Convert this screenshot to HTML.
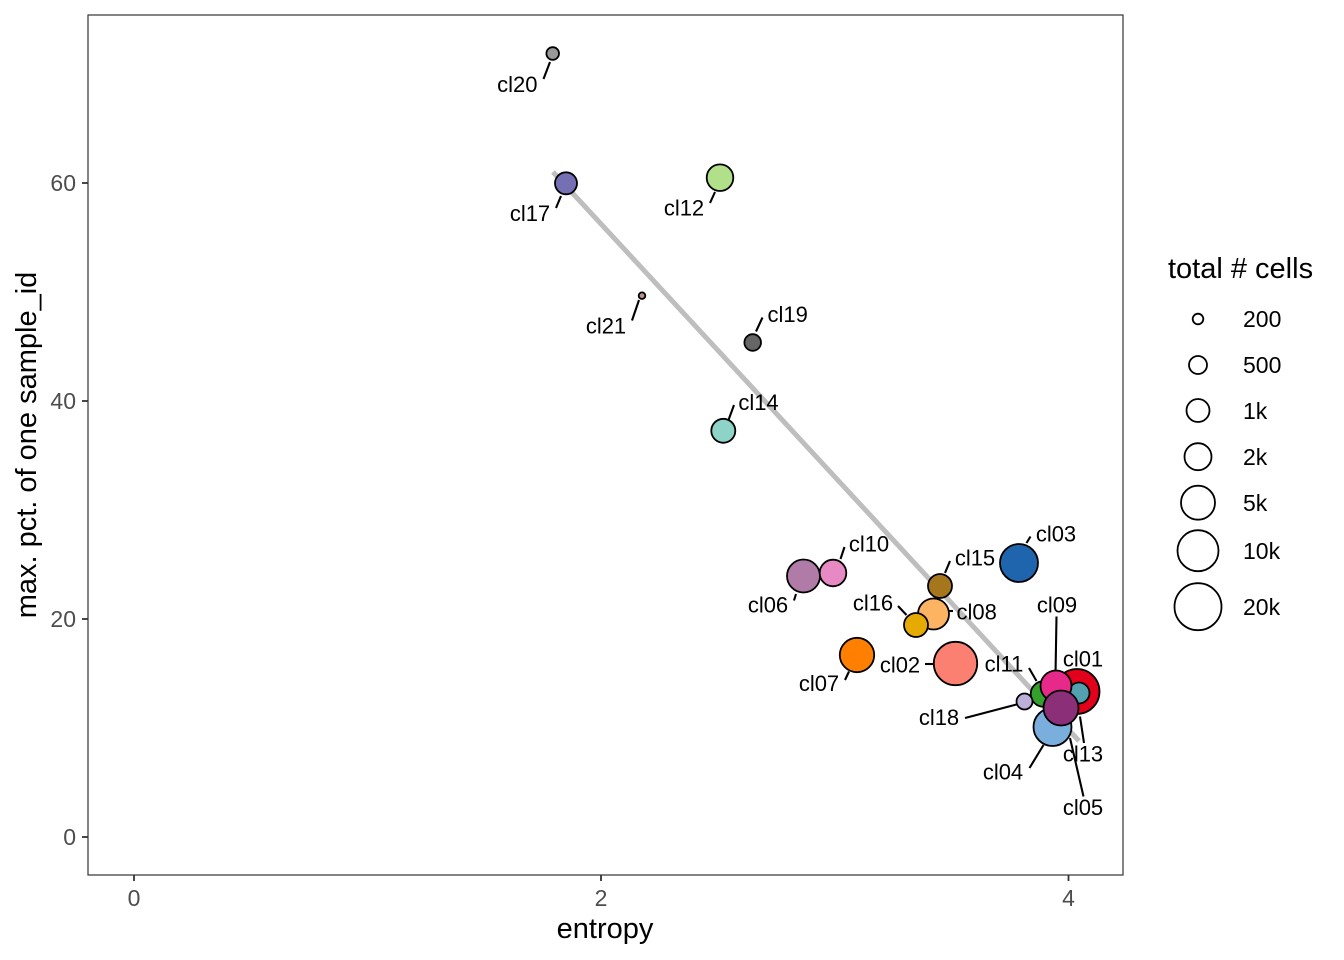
<!DOCTYPE html>
<html><head><meta charset="utf-8"><style>
html,body{margin:0;padding:0;background:#fff;}
svg{display:block;}
text{font-family:"Liberation Sans",Arial,sans-serif;}
</style></head><body>
<svg width="1344" height="960" viewBox="0 0 1344 960" xmlns="http://www.w3.org/2000/svg">
<rect x="0" y="0" width="1344" height="960" fill="#fff"/>
<!-- panel -->
<rect x="88" y="15" width="1035" height="860" fill="#fff" stroke="#333" stroke-width="1.2"/>
<!-- regression line -->
<line x1="553" y1="172" x2="1079" y2="741" stroke="#bebebe" stroke-width="5"/>
<!-- segments -->
<g stroke="#000" stroke-width="2.1" fill="none">
<line x1="543.5" y1="79" x2="550" y2="62"/>
<line x1="556" y1="208" x2="561" y2="196"/>
<line x1="710" y1="203" x2="715" y2="192"/>
<line x1="632" y1="320.5" x2="639" y2="300"/>
<line x1="756" y1="331.5" x2="762.5" y2="317.5"/>
<line x1="728.5" y1="420" x2="734" y2="405"/>
<line x1="840.5" y1="559" x2="844.5" y2="547"/>
<line x1="794" y1="600.5" x2="796" y2="594"/>
<line x1="945" y1="573" x2="950" y2="561"/>
<line x1="898" y1="606" x2="906.5" y2="615"/>
<line x1="948.5" y1="611" x2="953" y2="611"/>
<line x1="845" y1="680" x2="849" y2="671.5"/>
<line x1="925" y1="664" x2="933.5" y2="664"/>
<line x1="1026.5" y1="543" x2="1030.5" y2="536.5"/>
<line x1="1056.5" y1="616.5" x2="1055.5" y2="675"/>
<line x1="1029" y1="668" x2="1036.5" y2="681"/>
<line x1="965" y1="718" x2="1016.5" y2="704.5"/>
<line x1="1029.5" y1="768" x2="1043.5" y2="745"/>
<line x1="1080" y1="716.5" x2="1084" y2="743"/>
<line x1="1070" y1="738" x2="1083.5" y2="796.5"/>
</g>
<!-- points -->
<g stroke="#000" stroke-width="1.8">
<circle cx="552.7" cy="53.5" r="6.3" fill="#999999"/>
<circle cx="566" cy="183.3" r="11" fill="#7570b3"/>
<circle cx="720" cy="177.7" r="13.3" fill="#b2df8a"/>
<circle cx="642" cy="295.7" r="3.3" fill="#bc8f8f"/>
<circle cx="752.7" cy="342.5" r="8.3" fill="#666666"/>
<circle cx="723.3" cy="430.8" r="12" fill="#8dd3c7"/>
<circle cx="1019" cy="563" r="19" fill="#1f65ad"/>
<circle cx="803.5" cy="576" r="16.5" fill="#b07ba7"/>
<circle cx="833" cy="573" r="13.3" fill="#e78ac3"/>
<circle cx="933.5" cy="614" r="15.5" fill="#fdb462"/>
<circle cx="940" cy="586" r="12" fill="#a6761d"/>
<circle cx="916" cy="625" r="12" fill="#e6ab02"/>
<circle cx="857" cy="655" r="17.2" fill="#ff7f00"/>
<circle cx="955.5" cy="663.5" r="21.7" fill="#fb8072"/>
<circle cx="1077" cy="691.5" r="22.5" fill="#e3001b"/>
<circle cx="1052.5" cy="727" r="19" fill="#7aaedc"/>
<circle cx="1043.5" cy="694" r="12.8" fill="#33a02c"/>
<circle cx="1079" cy="693" r="10.5" fill="#52a0b0"/>
<circle cx="1056" cy="686" r="15.5" fill="#e7298a"/>
<circle cx="1024.5" cy="701.5" r="8" fill="#bdb0d8"/>
<circle cx="1061" cy="708" r="17.5" fill="#8b2f78"/>
</g>
<!-- point labels -->
<g font-size="22" fill="#000" text-anchor="middle">
<text x="517.3" y="92">cl20</text>
<text x="530" y="221">cl17</text>
<text x="684" y="215.3">cl12</text>
<text x="606" y="333.7">cl21</text>
<text x="787.7" y="322">cl19</text>
<text x="758.5" y="410">cl14</text>
<text x="1056" y="541.7">cl03</text>
<text x="975" y="565.3">cl15</text>
<text x="976.7" y="619.3">cl08</text>
<text x="1057" y="612.7">cl09</text>
<text x="1083" y="666.7">cl01</text>
<text x="900" y="672.7">cl02</text>
<text x="1004" y="671.7">cl11</text>
<text x="939" y="725">cl18</text>
<text x="1083" y="761.7">cl13</text>
<text x="1003" y="779.3">cl04</text>
<text x="1083" y="815">cl05</text>
<text x="869" y="551.7">cl10</text>
<text x="768" y="612.7">cl06</text>
<text x="873" y="610.3">cl16</text>
<text x="819" y="691">cl07</text>
</g>
<!-- axes ticks -->
<g stroke="#333" stroke-width="1.8">
<line x1="134" y1="875" x2="134" y2="881"/>
<line x1="601" y1="875" x2="601" y2="881"/>
<line x1="1068.5" y1="875" x2="1068.5" y2="881"/>
<line x1="82" y1="837" x2="88" y2="837"/>
<line x1="82" y1="619" x2="88" y2="619"/>
<line x1="82" y1="401" x2="88" y2="401"/>
<line x1="82" y1="183" x2="88" y2="183"/>
</g>
<g font-size="23" fill="#4d4d4d">
<text x="134" y="906" text-anchor="middle">0</text>
<text x="601" y="906" text-anchor="middle">2</text>
<text x="1068.5" y="906" text-anchor="middle">4</text>
<text x="76" y="845" text-anchor="end">0</text>
<text x="76" y="627" text-anchor="end">20</text>
<text x="76" y="409" text-anchor="end">40</text>
<text x="76" y="191" text-anchor="end">60</text>
</g>
<text x="605" y="938" font-size="29" text-anchor="middle" fill="#000">entropy</text>
<text x="0" y="0" font-size="29" text-anchor="middle" fill="#000" transform="translate(36,445) rotate(-90)">max. pct. of one sample_id</text>
<!-- legend -->
<text x="1168" y="278" font-size="29" fill="#000">total # cells</text>
<g stroke="#000" stroke-width="1.8" fill="#fff">
<circle cx="1198" cy="319" r="5.3"/>
<circle cx="1198" cy="365" r="9"/>
<circle cx="1198" cy="410.5" r="11.5"/>
<circle cx="1198" cy="456.7" r="13.5"/>
<circle cx="1198" cy="502.7" r="17"/>
<circle cx="1198" cy="550.7" r="20.5"/>
<circle cx="1198" cy="606.7" r="23.5"/>
</g>
<g font-size="23" fill="#000">
<text x="1243" y="327">200</text>
<text x="1243" y="373">500</text>
<text x="1243" y="419">1k</text>
<text x="1243" y="465">2k</text>
<text x="1243" y="511">5k</text>
<text x="1243" y="559">10k</text>
<text x="1243" y="615">20k</text>
</g>
</svg>
</body></html>
